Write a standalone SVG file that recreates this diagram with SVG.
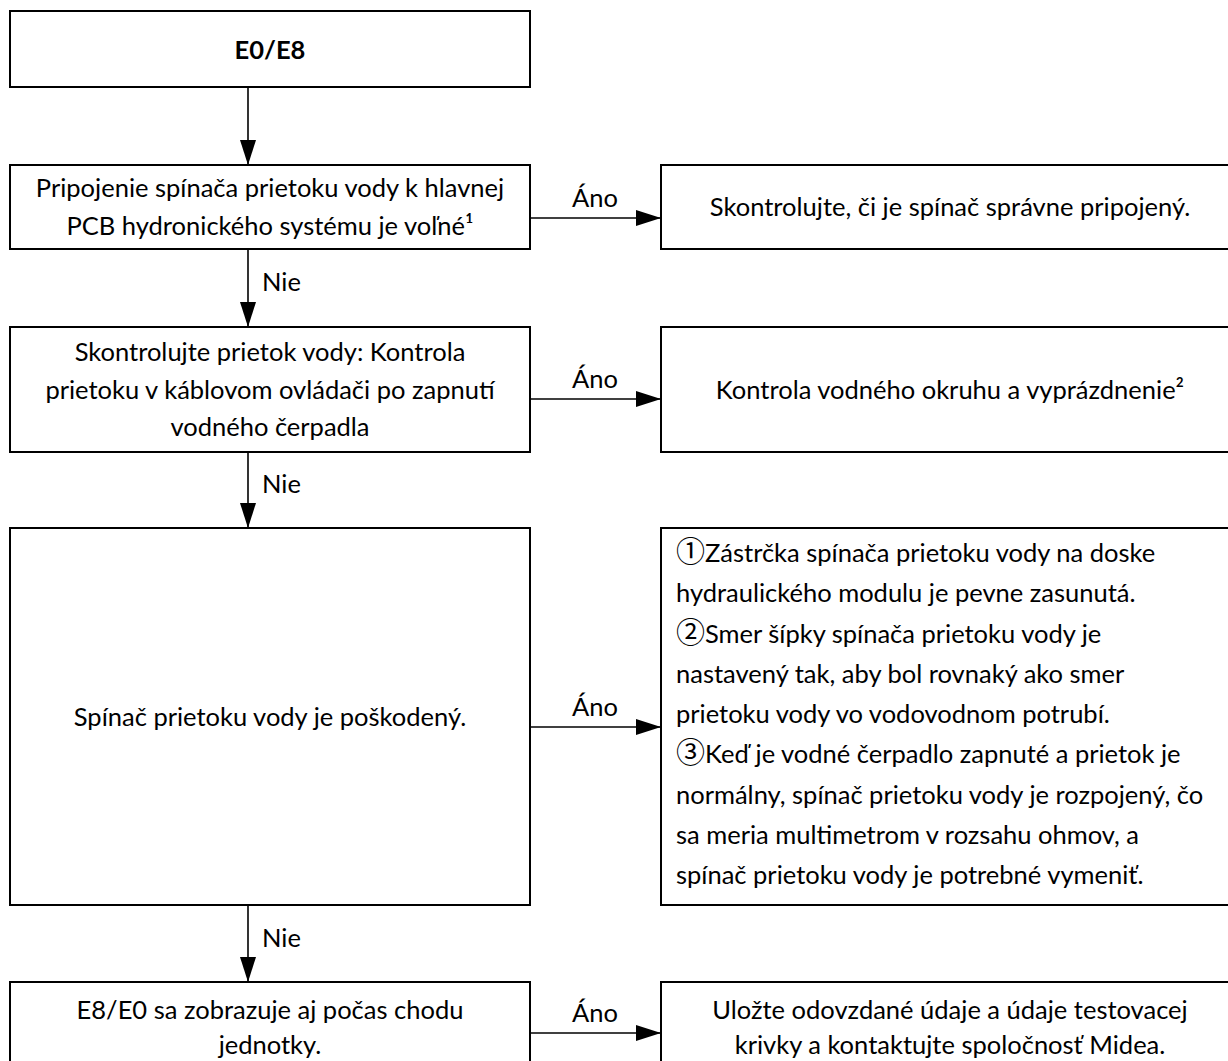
<svg xmlns="http://www.w3.org/2000/svg" width="1228" height="1061" viewBox="0 0 1228 1061">
<defs>
<style>
.box{fill:#fff;stroke:#000;stroke-width:2}
.t{font-family:Lato,"Noto Sans CJK SC","DejaVu Sans",sans-serif;font-size:25.5px;fill:#000}
.c{text-anchor:middle}
.b{font-weight:bold}
.num{font-family:"Noto Sans CJK SC","DejaVu Sans",sans-serif;font-size:29px}
.conn{stroke:#000;stroke-width:1.6;fill:none}
</style>
<marker id="ah" markerUnits="userSpaceOnUse" markerWidth="26" markerHeight="16" refX="25" refY="8" orient="auto">
<path d="M0,0 L25,8 L0,16 Z" fill="#000"/>
</marker>
</defs>
<rect width="1228" height="1061" fill="#fff"/>
<g id="n1"><rect class="box" x="10" y="11" width="520" height="76"/><text class="t c b" x="270" y="59">E0/E8</text></g>
<g id="n2"><rect class="box" x="10" y="165" width="520" height="84"/><text class="t c" x="270" y="197">Pripojenie spínača prietoku vody k hlavnej</text><text class="t c" x="270" y="235">PCB hydronického systému je voľné¹</text></g>
<g id="n2r"><rect class="box" x="661" y="165" width="580" height="84"/><text class="t c" x="950" y="216">Skontrolujte, či je spínač správne pripojený.</text></g>
<g id="n3"><rect class="box" x="10" y="327" width="520" height="125"/><text class="t c" x="270" y="361">Skontrolujte prietok vody: Kontrola</text><text class="t c" x="270" y="399">prietoku v káblovom ovládači po zapnutí</text><text class="t c" x="270" y="436">vodného čerpadla</text></g>
<g id="n3r"><rect class="box" x="661" y="327" width="580" height="125"/><text class="t c" x="950" y="399">Kontrola vodného okruhu a vyprázdnenie²</text></g>
<g id="n4"><rect class="box" x="10" y="528" width="520" height="377"/><text class="t c" x="270" y="726">Spínač prietoku vody je poškodený.</text></g>
<g id="n4r"><rect class="box" x="661" y="528" width="580" height="377"/>
<text class="t" x="676" y="562"><tspan class="num">①</tspan>Zástrčka spínača prietoku vody na doske</text>
<text class="t" x="676" y="602">hydraulického modulu je pevne zasunutá.</text>
<text class="t" x="676" y="643"><tspan class="num">②</tspan>Smer šípky spínača prietoku vody je</text>
<text class="t" x="676" y="683">nastavený tak, aby bol rovnaký ako smer</text>
<text class="t" x="676" y="723">prietoku vody vo vodovodnom potrubí.</text>
<text class="t" x="676" y="763"><tspan class="num">③</tspan>Keď je vodné čerpadlo zapnuté a prietok je</text>
<text class="t" x="676" y="804">normálny, spínač prietoku vody je rozpojený, čo</text>
<text class="t" x="676" y="844">sa meria multimetrom v rozsahu ohmov, a</text>
<text class="t" x="676" y="884">spínač prietoku vody je potrebné vymeniť.</text>
</g>
<g id="n5"><rect class="box" x="10" y="982" width="520" height="90"/><text class="t c" x="270" y="1019">E8/E0 sa zobrazuje aj počas chodu</text><text class="t c" x="270" y="1054">jednotky.</text></g>
<g id="n5r"><rect class="box" x="661" y="982" width="580" height="90"/><text class="t c" x="950" y="1019">Uložte odovzdané údaje a údaje testovacej</text><text class="t c" x="950" y="1054">krivky a kontaktujte spoločnosť Midea.</text></g>
<g id="connectors">
<line class="conn" x1="248" y1="87" x2="248" y2="165" marker-end="url(#ah)"/>
<line class="conn" x1="248" y1="249" x2="248" y2="327" marker-end="url(#ah)"/>
<line class="conn" x1="248" y1="452" x2="248" y2="528" marker-end="url(#ah)"/>
<line class="conn" x1="248" y1="905" x2="248" y2="982" marker-end="url(#ah)"/>
<line class="conn" x1="530" y1="218" x2="661" y2="218" marker-end="url(#ah)"/>
<line class="conn" x1="530" y1="399" x2="661" y2="399" marker-end="url(#ah)"/>
<line class="conn" x1="530" y1="727" x2="661" y2="727" marker-end="url(#ah)"/>
<line class="conn" x1="530" y1="1033" x2="661" y2="1033" marker-end="url(#ah)"/>
<text class="t" x="262" y="291">Nie</text>
<text class="t" x="262" y="493">Nie</text>
<text class="t" x="262" y="947">Nie</text>
<text class="t c" x="595" y="207">Áno</text>
<text class="t c" x="595" y="388">Áno</text>
<text class="t c" x="595" y="716">Áno</text>
<text class="t c" x="595" y="1022">Áno</text>
</g>
</svg>
